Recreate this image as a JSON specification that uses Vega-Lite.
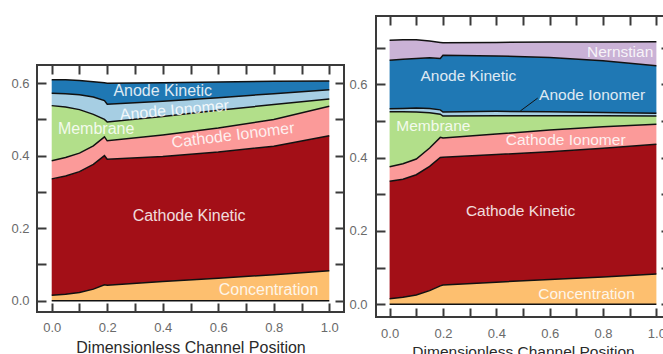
{
  "$schema": "https://vega.github.io/schema/vega-lite/v6.json",
  "padding": {"left": 9, "top": 14, "right": 0, "bottom": 0},
  "spacing": 1,
  "config": {
    "font": "Liberation Sans",
    "view": {"stroke": "#3a3a3a", "strokeWidth": 2},
    "axis": {
      "domain": false, "grid": false,
      "tickColor": "#3a3a3a", "tickWidth": 2, "tickSize": -9,
      "labelColor": "#6a6a6a", "labelFontSize": 13, "labelFont": "Liberation Sans",
      "labelOverlap": false, "labelFlush": false,
      "titleFont": "Liberation Sans", "titleFontSize": 16, "titleFontWeight": "normal", "titleColor": "#2a2a2a"
    }
  },
  "resolve": {"scale": {"x": "independent", "y": "independent", "color": "independent"}},
  "datasets": {
    "left": [
      {"x":0,"layer":"Concentration","k":1,"v":0.015},{"x":0.05,"layer":"Concentration","k":1,"v":0.018},{"x":0.1,"layer":"Concentration","k":1,"v":0.023},{"x":0.15,"layer":"Concentration","k":1,"v":0.032},{"x":0.19,"layer":"Concentration","k":1,"v":0.044},{"x":0.2,"layer":"Concentration","k":1,"v":0.043},{"x":0.4,"layer":"Concentration","k":1,"v":0.053},{"x":0.6,"layer":"Concentration","k":1,"v":0.062},{"x":0.8,"layer":"Concentration","k":1,"v":0.072},{"x":1.0,"layer":"Concentration","k":1,"v":0.083},
      {"x":0,"layer":"Cathode Kinetic","k":2,"v":0.321},{"x":0.05,"layer":"Cathode Kinetic","k":2,"v":0.326},{"x":0.1,"layer":"Cathode Kinetic","k":2,"v":0.333},{"x":0.15,"layer":"Cathode Kinetic","k":2,"v":0.344},{"x":0.19,"layer":"Cathode Kinetic","k":2,"v":0.356},{"x":0.2,"layer":"Cathode Kinetic","k":2,"v":0.347},{"x":0.4,"layer":"Cathode Kinetic","k":2,"v":0.345},{"x":0.6,"layer":"Cathode Kinetic","k":2,"v":0.348},{"x":0.8,"layer":"Cathode Kinetic","k":2,"v":0.354},{"x":1.0,"layer":"Cathode Kinetic","k":2,"v":0.372},
      {"x":0,"layer":"Cathode Ionomer","k":3,"v":0.050},{"x":0.05,"layer":"Cathode Ionomer","k":3,"v":0.051},{"x":0.1,"layer":"Cathode Ionomer","k":3,"v":0.051},{"x":0.15,"layer":"Cathode Ionomer","k":3,"v":0.051},{"x":0.19,"layer":"Cathode Ionomer","k":3,"v":0.052},{"x":0.2,"layer":"Cathode Ionomer","k":3,"v":0.051},{"x":0.4,"layer":"Cathode Ionomer","k":3,"v":0.059},{"x":0.6,"layer":"Cathode Ionomer","k":3,"v":0.066},{"x":0.8,"layer":"Cathode Ionomer","k":3,"v":0.074},{"x":1.0,"layer":"Cathode Ionomer","k":3,"v":0.081},
      {"x":0,"layer":"Membrane","k":4,"v":0.152},{"x":0.05,"layer":"Membrane","k":4,"v":0.139},{"x":0.1,"layer":"Membrane","k":4,"v":0.120},{"x":0.15,"layer":"Membrane","k":4,"v":0.087},{"x":0.19,"layer":"Membrane","k":4,"v":0.048},{"x":0.2,"layer":"Membrane","k":4,"v":0.052},{"x":0.4,"layer":"Membrane","k":4,"v":0.051},{"x":0.6,"layer":"Membrane","k":4,"v":0.049},{"x":0.8,"layer":"Membrane","k":4,"v":0.041},{"x":1.0,"layer":"Membrane","k":4,"v":0.020},
      {"x":0,"layer":"Anode Ionomer","k":5,"v":0.034},{"x":0.05,"layer":"Anode Ionomer","k":5,"v":0.037},{"x":0.1,"layer":"Anode Ionomer","k":5,"v":0.041},{"x":0.15,"layer":"Anode Ionomer","k":5,"v":0.048},{"x":0.19,"layer":"Anode Ionomer","k":5,"v":0.052},{"x":0.2,"layer":"Anode Ionomer","k":5,"v":0.049},{"x":0.4,"layer":"Anode Ionomer","k":5,"v":0.042},{"x":0.6,"layer":"Anode Ionomer","k":5,"v":0.035},{"x":0.8,"layer":"Anode Ionomer","k":5,"v":0.030},{"x":1.0,"layer":"Anode Ionomer","k":5,"v":0.026},
      {"x":0,"layer":"Anode Kinetic","k":6,"v":0.037},{"x":0.05,"layer":"Anode Kinetic","k":6,"v":0.038},{"x":0.1,"layer":"Anode Kinetic","k":6,"v":0.039},{"x":0.15,"layer":"Anode Kinetic","k":6,"v":0.042},{"x":0.19,"layer":"Anode Kinetic","k":6,"v":0.049},{"x":0.2,"layer":"Anode Kinetic","k":6,"v":0.058},{"x":0.4,"layer":"Anode Kinetic","k":6,"v":0.051},{"x":0.6,"layer":"Anode Kinetic","k":6,"v":0.043},{"x":0.8,"layer":"Anode Kinetic","k":6,"v":0.034},{"x":1.0,"layer":"Anode Kinetic","k":6,"v":0.024}
    ],
    "right": [
      {"x":0,"layer":"Concentration","k":1,"v":0.015},{"x":0.05,"layer":"Concentration","k":1,"v":0.019},{"x":0.1,"layer":"Concentration","k":1,"v":0.025},{"x":0.15,"layer":"Concentration","k":1,"v":0.037},{"x":0.19,"layer":"Concentration","k":1,"v":0.050},{"x":0.2,"layer":"Concentration","k":1,"v":0.052},{"x":0.4,"layer":"Concentration","k":1,"v":0.060},{"x":0.6,"layer":"Concentration","k":1,"v":0.067},{"x":0.8,"layer":"Concentration","k":1,"v":0.074},{"x":1.0,"layer":"Concentration","k":1,"v":0.082},
      {"x":0,"layer":"Cathode Kinetic","k":2,"v":0.320},{"x":0.05,"layer":"Cathode Kinetic","k":2,"v":0.322},{"x":0.1,"layer":"Cathode Kinetic","k":2,"v":0.328},{"x":0.15,"layer":"Cathode Kinetic","k":2,"v":0.339},{"x":0.19,"layer":"Cathode Kinetic","k":2,"v":0.350},{"x":0.2,"layer":"Cathode Kinetic","k":2,"v":0.349},{"x":0.4,"layer":"Cathode Kinetic","k":2,"v":0.348},{"x":0.6,"layer":"Cathode Kinetic","k":2,"v":0.349},{"x":0.8,"layer":"Cathode Kinetic","k":2,"v":0.351},{"x":1.0,"layer":"Cathode Kinetic","k":2,"v":0.354},
      {"x":0,"layer":"Cathode Ionomer","k":3,"v":0.040},{"x":0.05,"layer":"Cathode Ionomer","k":3,"v":0.042},{"x":0.1,"layer":"Cathode Ionomer","k":3,"v":0.043},{"x":0.15,"layer":"Cathode Ionomer","k":3,"v":0.050},{"x":0.19,"layer":"Cathode Ionomer","k":3,"v":0.055},{"x":0.2,"layer":"Cathode Ionomer","k":3,"v":0.052},{"x":0.4,"layer":"Cathode Ionomer","k":3,"v":0.056},{"x":0.6,"layer":"Cathode Ionomer","k":3,"v":0.059},{"x":0.8,"layer":"Cathode Ionomer","k":3,"v":0.059},{"x":1.0,"layer":"Cathode Ionomer","k":3,"v":0.055},
      {"x":0,"layer":"Membrane","k":4,"v":0.150},{"x":0.05,"layer":"Membrane","k":4,"v":0.142},{"x":0.1,"layer":"Membrane","k":4,"v":0.128},{"x":0.15,"layer":"Membrane","k":4,"v":0.096},{"x":0.19,"layer":"Membrane","k":4,"v":0.063},{"x":0.2,"layer":"Membrane","k":4,"v":0.060},{"x":0.4,"layer":"Membrane","k":4,"v":0.050},{"x":0.6,"layer":"Membrane","k":4,"v":0.039},{"x":0.8,"layer":"Membrane","k":4,"v":0.030},{"x":1.0,"layer":"Membrane","k":4,"v":0.022},
      {"x":0,"layer":"Anode Ionomer","k":5,"v":0.008},{"x":0.05,"layer":"Anode Ionomer","k":5,"v":0.009},{"x":0.1,"layer":"Anode Ionomer","k":5,"v":0.011},{"x":0.15,"layer":"Anode Ionomer","k":5,"v":0.012},{"x":0.19,"layer":"Anode Ionomer","k":5,"v":0.012},{"x":0.2,"layer":"Anode Ionomer","k":5,"v":0.011},{"x":0.4,"layer":"Anode Ionomer","k":5,"v":0.012},{"x":0.6,"layer":"Anode Ionomer","k":5,"v":0.011},{"x":0.8,"layer":"Anode Ionomer","k":5,"v":0.009},{"x":1.0,"layer":"Anode Ionomer","k":5,"v":0.008},
      {"x":0,"layer":"Anode Kinetic","k":6,"v":0.132},{"x":0.05,"layer":"Anode Kinetic","k":6,"v":0.134},{"x":0.1,"layer":"Anode Kinetic","k":6,"v":0.135},{"x":0.15,"layer":"Anode Kinetic","k":6,"v":0.138},{"x":0.19,"layer":"Anode Kinetic","k":6,"v":0.140},{"x":0.2,"layer":"Anode Kinetic","k":6,"v":0.155},{"x":0.4,"layer":"Anode Kinetic","k":6,"v":0.151},{"x":0.6,"layer":"Anode Kinetic","k":6,"v":0.148},{"x":0.8,"layer":"Anode Kinetic","k":6,"v":0.141},{"x":1.0,"layer":"Anode Kinetic","k":6,"v":0.129},
      {"x":0,"layer":"Nernstian","k":7,"v":0.055},{"x":0.05,"layer":"Nernstian","k":7,"v":0.053},{"x":0.1,"layer":"Nernstian","k":7,"v":0.051},{"x":0.15,"layer":"Nernstian","k":7,"v":0.046},{"x":0.19,"layer":"Nernstian","k":7,"v":0.044},{"x":0.2,"layer":"Nernstian","k":7,"v":0.034},{"x":0.4,"layer":"Nernstian","k":7,"v":0.037},{"x":0.6,"layer":"Nernstian","k":7,"v":0.042},{"x":0.8,"layer":"Nernstian","k":7,"v":0.051},{"x":1.0,"layer":"Nernstian","k":7,"v":0.066}
    ]
  },
  "hconcat": [
    {
      "spacing": 0,
      "vconcat": [
        {
          "width": 1, "height": 47,
          "view": {"stroke": null},
          "data": {"values": [{}]},
          "mark": {"type": "point", "opacity": 0},
          "encoding": {}
        },
        {
          "width": 307, "height": 247,
          "resolve": {"axis": {"x": "independent", "y": "independent"}},
          "layer": [
            {
              "data": {"name": "left"},
              "transform": [{"stack": "v", "groupby": ["x"], "sort": [{"field": "k", "order": "ascending"}], "as": ["v0", "v1"]}],
              "mark": {"type": "area", "opacity": 1},
              "encoding": {
                "x": {"field": "x", "type": "quantitative", "scale": {"domain": [-0.053, 1.053], "nice": false, "zero": false},
                      "axis": {"orient": "bottom", "values": [0,0.1,0.2,0.3,0.4,0.5,0.6,0.7,0.8,0.9,1.0], "labelExpr": "round(datum.value*10) % 2 == 0 ? format(datum.value, '.1f') : ''", "labelPadding": 18, "titlePadding": 5, "title": "Dimensionless Channel Position"}},
                "y": {"field": "v1", "type": "quantitative", "scale": {"domain": [-0.031, 0.65], "nice": false, "zero": false},
                      "axis": {"orient": "left", "values": [0,0.1,0.2,0.3,0.4,0.5,0.6], "labelExpr": "round(datum.value*10) % 2 == 0 ? format(datum.value, '.1f') : ''", "labelPadding": 17, "title": null}},
                "y2": {"field": "v0"},
                "color": {"field": "layer", "type": "nominal", "legend": null,
                          "scale": {"domain": ["Concentration","Cathode Kinetic","Cathode Ionomer","Membrane","Anode Ionomer","Anode Kinetic","Nernstian"],
                                    "range": ["#fdbf6f","#a30f17","#fb9a99","#b2df8a","#a6cee3","#1f78b4","#cab2d6"]}}
              }
            },
            {
              "data": {"name": "left"},
              "transform": [{"stack": "v", "groupby": ["x"], "sort": [{"field": "k", "order": "ascending"}], "as": ["v0", "v1"]}],
              "mark": {"type": "line", "color": "#111111", "strokeWidth": 1.5},
              "encoding": {
                "x": {"field": "x", "type": "quantitative", "axis": null},
                "y": {"field": "v1", "type": "quantitative", "axis": null},
                "detail": {"field": "layer"}
              }
            },
            {
              "data": {"values": [{}]},
              "mark": {"type": "rule", "color": "#111111", "strokeWidth": 1.5},
              "encoding": {
                "x": {"datum": 0, "type": "quantitative", "axis": {"orient": "top", "values": [0,0.1,0.2,0.3,0.4,0.5,0.6,0.7,0.8,0.9,1.0], "labels": false, "title": null}},
                "x2": {"datum": 1},
                "y": {"datum": 0, "type": "quantitative", "axis": {"orient": "right", "values": [0,0.1,0.2,0.3,0.4,0.5,0.6], "labels": false, "title": null}}
              }
            },
            {
              "data": {"values": [
                {"label": "Anode Kinetic", "x": 0.40, "y": 0.577},
                {"label": "Membrane", "x": 0.16, "y": 0.473},
                {"label": "Cathode Kinetic", "x": 0.495, "y": 0.234},
                {"label": "Concentration", "x": 0.781, "y": 0.031}
              ]},
              "mark": {"type": "text", "fontSize": 16, "color": "#ffffff", "opacity": 0.85, "baseline": "middle", "align": "center"},
              "encoding": {
                "x": {"field": "x", "type": "quantitative", "axis": null},
                "y": {"field": "y", "type": "quantitative", "axis": null},
                "text": {"field": "label"}
              }
            },
            {
              "data": {"values": [{"label": "Anode Ionomer", "x": 0.442, "y": 0.525}]},
              "mark": {"type": "text", "fontSize": 16, "color": "#ffffff", "opacity": 0.85, "baseline": "middle", "align": "center", "angle": 355},
              "encoding": {
                "x": {"field": "x", "type": "quantitative", "axis": null},
                "y": {"field": "y", "type": "quantitative", "axis": null},
                "text": {"field": "label"}
              }
            },
            {
              "data": {"values": [{"label": "Cathode Ionomer", "x": 0.653, "y": 0.456}]},
              "mark": {"type": "text", "fontSize": 16, "color": "#ffffff", "opacity": 0.85, "baseline": "middle", "align": "center", "angle": 353},
              "encoding": {
                "x": {"field": "x", "type": "quantitative", "axis": null},
                "y": {"field": "y", "type": "quantitative", "axis": null},
                "text": {"field": "label"}
              }
            }
          ]
        }
      ]
    },
    {
      "width": 294, "height": 301,
      "resolve": {"axis": {"x": "independent", "y": "independent"}},
      "layer": [
        {
          "data": {"name": "right"},
          "transform": [{"stack": "v", "groupby": ["x"], "sort": [{"field": "k", "order": "ascending"}], "as": ["v0", "v1"]}],
          "mark": {"type": "area", "opacity": 1},
          "encoding": {
            "x": {"field": "x", "type": "quantitative", "scale": {"domain": [-0.051, 1.051], "nice": false, "zero": false},
                  "axis": {"orient": "bottom", "values": [0,0.1,0.2,0.3,0.4,0.5,0.6,0.7,0.8,0.9,1.0], "labelExpr": "round(datum.value*10) % 2 == 0 ? format(datum.value, '.1f') : ''", "labelPadding": 19.5, "titlePadding": 3.5, "title": "Dimensionless Channel Position", "titleFontSize": 15.5}},
            "y": {"field": "v1", "type": "quantitative", "scale": {"domain": [-0.035, 0.786], "nice": false, "zero": false},
                  "axis": {"orient": "left", "values": [0,0.1,0.2,0.3,0.4,0.5,0.6,0.7], "labelExpr": "round(datum.value*10) % 2 == 0 ? format(datum.value, '.1f') : ''", "labelPadding": 18, "title": null}},
            "y2": {"field": "v0"},
            "color": {"field": "layer", "type": "nominal", "legend": null,
                      "scale": {"domain": ["Concentration","Cathode Kinetic","Cathode Ionomer","Membrane","Anode Ionomer","Anode Kinetic","Nernstian"],
                                "range": ["#fdbf6f","#a30f17","#fb9a99","#b2df8a","#a6cee3","#1f78b4","#cab2d6"]}}
          }
        },
        {
          "data": {"name": "right"},
          "transform": [{"stack": "v", "groupby": ["x"], "sort": [{"field": "k", "order": "ascending"}], "as": ["v0", "v1"]}],
          "mark": {"type": "line", "color": "#111111", "strokeWidth": 1.5},
          "encoding": {
            "x": {"field": "x", "type": "quantitative", "axis": null},
            "y": {"field": "v1", "type": "quantitative", "axis": null},
            "detail": {"field": "layer"}
          }
        },
        {
          "data": {"values": [{}]},
          "mark": {"type": "rule", "color": "#111111", "strokeWidth": 1.5},
          "encoding": {
            "x": {"datum": 0, "type": "quantitative", "axis": {"orient": "top", "values": [0,0.1,0.2,0.3,0.4,0.5,0.6,0.7,0.8,0.9,1.0], "labels": false, "title": null}},
            "x2": {"datum": 1},
            "y": {"datum": 0, "type": "quantitative", "axis": {"orient": "right", "values": [0,0.1,0.2,0.3,0.4,0.5,0.6,0.7], "labels": false, "title": null}}
          }
        },
        {
          "data": {"values": [{}]},
          "mark": {"type": "rule", "color": "#111111", "strokeWidth": 1},
          "encoding": {
            "x": {"datum": 0.49, "type": "quantitative", "axis": null},
            "x2": {"datum": 0.555},
            "y": {"datum": 0.527, "type": "quantitative", "axis": null},
            "y2": {"datum": 0.562}
          }
        },
        {
          "data": {"values": [
            {"label": "Nernstian", "x": 0.864, "y": 0.689},
            {"label": "Anode Kinetic", "x": 0.295, "y": 0.621},
            {"label": "Anode Ionomer", "x": 0.759, "y": 0.571},
            {"label": "Membrane", "x": 0.164, "y": 0.485},
            {"label": "Cathode Ionomer", "x": 0.66, "y": 0.448},
            {"label": "Cathode Kinetic", "x": 0.491, "y": 0.253},
            {"label": "Concentration", "x": 0.738, "y": 0.027}
          ]},
          "mark": {"type": "text", "fontSize": 15.5, "color": "#ffffff", "opacity": 0.85, "baseline": "middle", "align": "center"},
          "encoding": {
            "x": {"field": "x", "type": "quantitative", "axis": null},
            "y": {"field": "y", "type": "quantitative", "axis": null},
            "text": {"field": "label"}
          }
        }
      ]
    }
  ]
}
